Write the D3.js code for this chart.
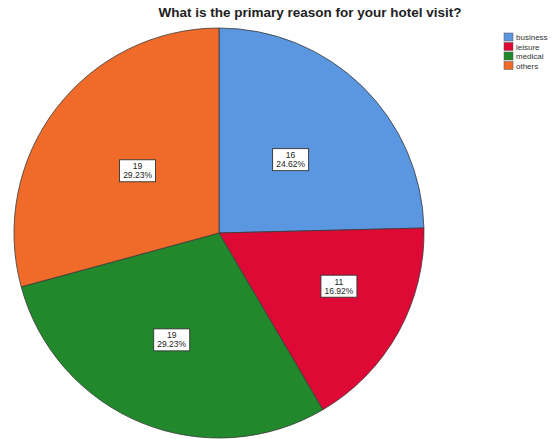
<!DOCTYPE html>
<html>
<head>
<meta charset="utf-8">
<script src="https://cdn.jsdelivr.net/npm/d3@7"></script>
<style>
  html, body { margin: 0; padding: 0; background: #fff; overflow: hidden; }
  svg { display: block; }
</style>
</head>
<body>
<svg id="chart" width="560" height="439"></svg>
<script>
// Survey answers: primary reason for the hotel visit
const categories = ["business", "leisure", "medical", "others"];
const counts = [16, 11, 19, 19];
const percentLabels = ["24.62%", "16.92%", "29.23%", "29.23%"];
const colors = ["#5b97e0", "#de0a35", "#21882c", "#f06a2a"];

const title = "What is the primary reason for your hotel visit?";

// Layout
const width = 560, height = 439;
const cx = 219, cy = 233, radius = 205;
// radial position of each value box, as a fraction of the radius
const labelRadius = [0.5, 0.64, 0.57, 0.5];
const labelAngleShift = [0, -0.09, 0.03, 0];

const svg = d3.select("#chart");

svg.append("text")
  .attr("x", 310)
  .attr("y", 17)
  .attr("text-anchor", "middle")
  .attr("font-family", "Liberation Sans, Arial, sans-serif")
  .attr("font-weight", "bold")
  .attr("font-size", 13.5)
  .attr("fill", "#222")
  .text(title);

const data = categories.map((c, i) => ({ category: c, count: counts[i], pct: percentLabels[i], i }));

const pie = d3.pie().value(d => d.count).sort(null);
const arc = d3.arc().innerRadius(0).outerRadius(radius);
const color = d3.scaleOrdinal().domain(categories).range(colors);

const g = svg.append("g").attr("transform", `translate(${cx},${cy})`);
const arcs = pie(data);

g.selectAll("path.slice")
  .data(arcs)
  .join("path")
  .attr("class", "slice")
  .attr("d", arc)
  .attr("fill", d => color(d.data.category))
  .attr("stroke", "#3a3a3a")
  .attr("stroke-width", 0.8)
  .attr("stroke-linejoin", "round");

// value boxes: count and percentage
const boxes = g.selectAll("g.label")
  .data(arcs)
  .join("g")
  .attr("class", "label")
  .attr("transform", d => {
    const a = (d.startAngle + d.endAngle) / 2 + labelAngleShift[d.data.i];
    const r = radius * labelRadius[d.data.i];
    return `translate(${r * Math.sin(a)},${-r * Math.cos(a)})`;
  });

boxes.append("rect")
  .attr("x", -18)
  .attr("y", -11)
  .attr("width", 36)
  .attr("height", 22)
  .attr("fill", "#fff")
  .attr("stroke", "#333")
  .attr("stroke-width", 0.9);

boxes.append("text")
  .attr("text-anchor", "middle")
  .attr("y", -1.5)
  .attr("font-family", "Liberation Sans, Arial, sans-serif")
  .attr("font-size", 8.5)
  .attr("fill", "#222")
  .text(d => d.data.count);

boxes.append("text")
  .attr("text-anchor", "middle")
  .attr("y", 7.5)
  .attr("font-family", "Liberation Sans, Arial, sans-serif")
  .attr("font-size", 8.5)
  .attr("fill", "#222")
  .text(d => d.data.pct);

// legend
const legend = svg.append("g").attr("transform", "translate(504,33)");
const rows = legend.selectAll("g")
  .data(categories)
  .join("g")
  .attr("transform", (d, i) => `translate(0,${i * 9.5})`);

rows.append("rect")
  .attr("width", 9)
  .attr("height", 8)
  .attr("fill", d => color(d))
  .attr("stroke", "#555")
  .attr("stroke-width", 0.5);

rows.append("text")
  .attr("x", 12)
  .attr("y", 7)
  .attr("font-family", "Liberation Sans, Arial, sans-serif")
  .attr("font-size", 8)
  .attr("fill", "#333")
  .text(d => d);
</script>
</body>
</html>
